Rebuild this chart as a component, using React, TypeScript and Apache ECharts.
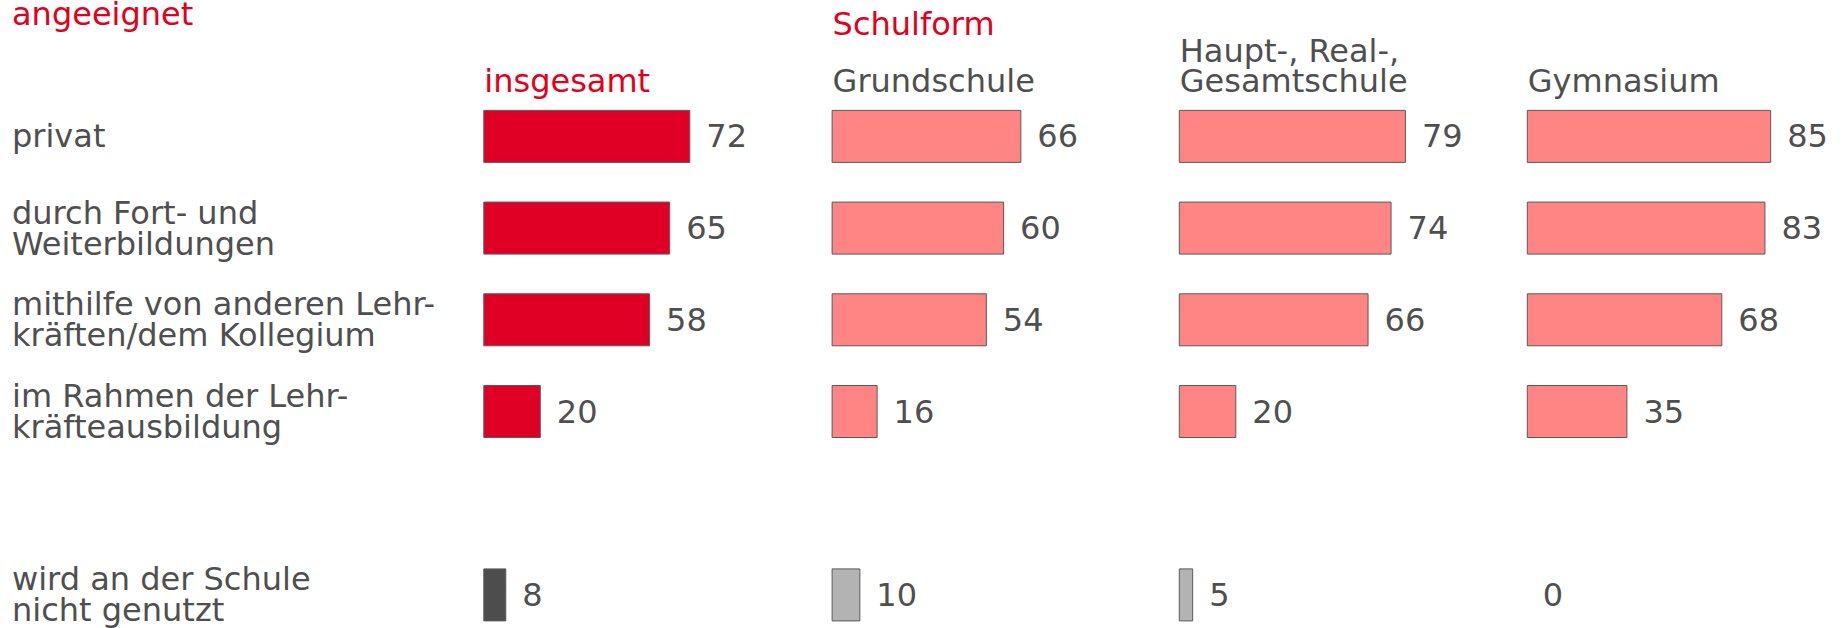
import React, { useEffect, useRef } from "react";
import * as echarts from "echarts";

const categories = [
  "privat",
  "durch Fort- und\nWeiterbildungen",
  "mithilfe von anderen Lehr-\nkräften/dem Kollegium",
  "im Rahmen der Lehr-\nkräfteausbildung",
  "",
  "wird an der Schule\nnicht genutzt",
];
const groupLabels = ["insgesamt", "Grundschule", "Haupt-, Real-,\nGesamtschule", "Gymnasium"];
const insgesamt = [72, 65, 58, 20, null, 8];
const grundschule = [66, 60, 54, 16, null, 10];
const hauptRealGesamt = [79, 74, 66, 20, null, 5];
const gymnasium = [85, 83, 68, 35, null, 0];
const seriesValues = [insgesamt, grundschule, hauptRealGesamt, gymnasium];

const FONT = "DejaVu Sans";
const FS = 32;
const TEXT = "#4F4F4F";
const RED_TEXT = "#E2001A";
const colLeft = [483.3, 831.6, 1178.8, 1526.8];
const firstCenter = 136.4;
const band = 91.7;
const gridWidth = 287.5;

function barColor(col: number, row: number) {
  if (row === 5) return col === 0 ? "#4D4D4D" : "#B3B3B3";
  return col === 0 ? "#E10025" : "#FF8585";
}

export default function App() {
  const ref = useRef<HTMLDivElement>(null);
  useEffect(() => {
    document.body.style.margin = "0";
    const chart = echarts.init(ref.current!, null, { renderer: "svg" });
    const grids = colLeft.map((left) => ({
      left,
      top: firstCenter,
      width: gridWidth,
      height: band * (categories.length - 1),
      containLabel: false,
    }));
    const xAxis = colLeft.map((_, i) => ({
      type: "value",
      gridIndex: i,
      min: 0,
      max: 100,
      show: false,
    }));
    const yAxis = colLeft.map((left, i) => ({
      type: "category",
      gridIndex: i,
      inverse: true,
      boundaryGap: false,
      data: categories,
      axisLine: { show: false },
      axisTick: { show: false },
      splitLine: { show: false },
      axisLabel: {
        show: i === 0,
        align: "left",
        margin: left - 12,
        fontFamily: FONT,
        fontSize: FS,
        lineHeight: 31,
        color: TEXT,
        interval: 0,
      },
    }));
    const series = seriesValues.map((vals, i) => ({
      type: "bar",
      xAxisIndex: i,
      yAxisIndex: i,
      barWidth: 53,
      data: vals.map((v, r) =>
        v === null
          ? "-"
          : {
              value: v,
              itemStyle: {
                color: barColor(i, r),
                borderColor: "#5A5A5A",
                borderWidth: v === 0 ? 0 : 1,
              },
            }
      ),
      label: {
        show: true,
        position: "right",
        distance: 16,
        fontFamily: FONT,
        fontSize: FS,
        color: TEXT,
      },
    }));
    const headerTexts = groupLabels.map((t, i) => ({
      type: "text",
      x: colLeft[i] + 1,
      y: t.includes("\n") ? 65.6 : 80.6,
      style: {
        text: t,
        font: `${FS}px '${FONT}'`,
        lineHeight: 30,
        fill: i === 0 ? RED_TEXT : TEXT,
        align: "left",
        verticalAlign: "middle",
      },
    }));
    chart.setOption({
      animation: false,
      grid: grids,
      xAxis,
      yAxis,
      series,
      graphic: [
        {
          type: "text",
          x: 12,
          y: 13.9,
          style: {
            text: "angeeignet",
            font: `${FS}px '${FONT}'`,
            fill: RED_TEXT,
            align: "left",
            verticalAlign: "middle",
          },
        },
        {
          type: "text",
          x: colLeft[1] + 1,
          y: 23.9,
          style: {
            text: "Schulform",
            font: `${FS}px '${FONT}'`,
            fill: RED_TEXT,
            align: "left",
            verticalAlign: "middle",
          },
        },
        ...headerTexts,
      ],
    });
    return () => chart.dispose();
  }, []);
  return (
    <div
      ref={ref}
      style={{ position: "fixed", left: 0, top: 0, width: 1846, height: 628, background: "#fff" }}
    />
  );
}
